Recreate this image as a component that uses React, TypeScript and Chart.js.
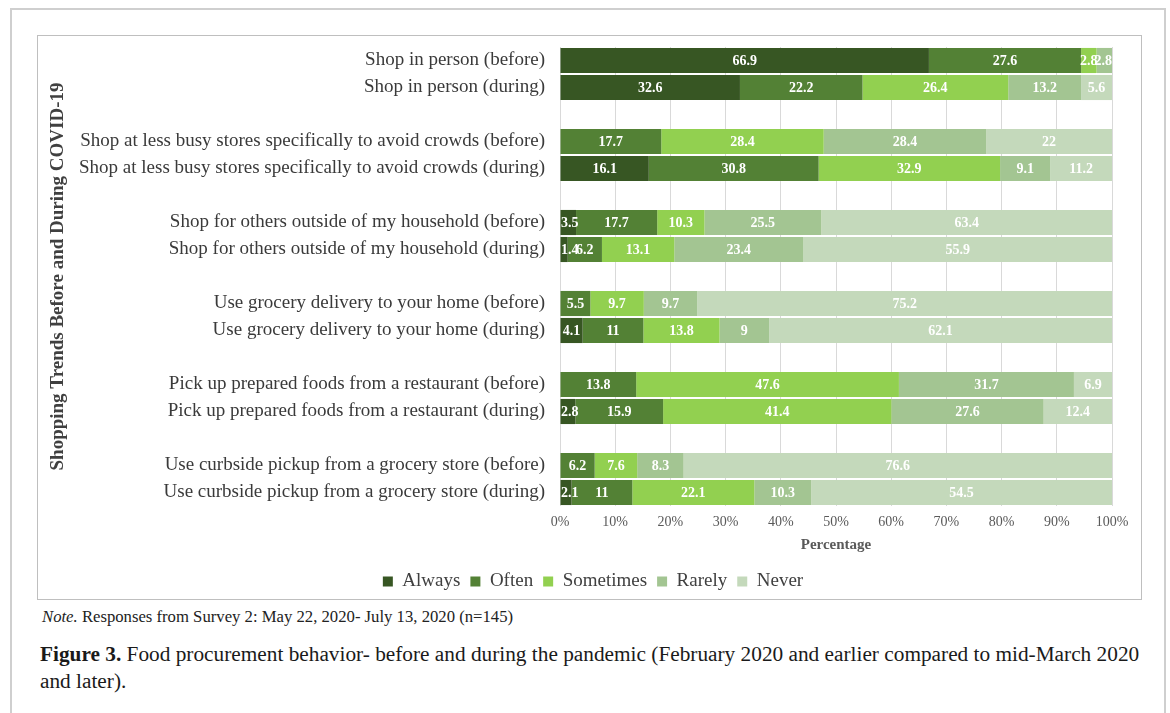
import React, { useEffect, useRef } from "react";
import { Chart, registerables } from "chart.js";

Chart.register(...registerables);

const categories = [
  "Shop in person (before)",
  "Shop in person (during)",
  "",
  "Shop at less busy stores specifically to avoid crowds (before)",
  "Shop at less busy stores specifically to avoid crowds (during)",
  "",
  "Shop for others outside of my household (before)",
  "Shop for others outside of my household (during)",
  "",
  "Use grocery delivery to your home (before)",
  "Use grocery delivery to your home (during)",
  "",
  "Pick up prepared foods from a restaurant (before)",
  "Pick up prepared foods from a restaurant (during)",
  "",
  "Use curbside pickup from a grocery store (before)",
  "Use curbside pickup from a grocery store (during)",
];

const seriesNames = ["Always", "Often", "Sometimes", "Rarely", "Never"];
const seriesColors = ["#375623", "#538135", "#92d050", "#a3c592", "#c4d9bb"];

const always = [66.9, 32.6, null, null, 16.1, null, 3.5, 1.4, null, null, 4.1, null, null, 2.8, null, null, 2.1];
const often = [27.6, 22.2, null, 17.7, 30.8, null, 17.7, 6.2, null, 5.5, 11, null, 13.8, 15.9, null, 6.2, 11];
const sometimes = [2.8, 26.4, null, 28.4, 32.9, null, 10.3, 13.1, null, 9.7, 13.8, null, 47.6, 41.4, null, 7.6, 22.1];
const rarely = [2.8, 13.2, null, 28.4, 9.1, null, 25.5, 23.4, null, 9.7, 9, null, 31.7, 27.6, null, 8.3, 10.3];
const never = [null, 5.6, null, 22, 11.2, null, 63.4, 55.9, null, 75.2, 62.1, null, 6.9, 12.4, null, 76.6, 54.5];

const seriesValues: (number | null)[][] = [always, often, sometimes, rarely, never];

const xTicks = [0, 10, 20, 30, 40, 50, 60, 70, 80, 90, 100];

const SERIF = '"Liberation Serif", "Times New Roman", serif';

// 100% stacked: each row is shown as share of its total (as Excel does)
const rowTotals = categories.map((_, i) =>
  seriesValues.reduce((s, arr) => s + (arr[i] ?? 0), 0)
);

const valueLabels = {
  id: "valueLabels",
  afterDatasetsDraw(chart: any) {
    const ctx = chart.ctx;
    const area = chart.chartArea;
    ctx.save();
    ctx.font = `bold 14px ${SERIF}`;
    ctx.fillStyle = "#ffffff";
    ctx.textAlign = "center";
    ctx.textBaseline = "middle";
    chart.data.datasets.forEach((_: any, di: number) => {
      const meta = chart.getDatasetMeta(di);
      const raw = seriesValues[di];
      meta.data.forEach((el: any, i: number) => {
        const v = raw[i];
        if (v == null) return;
        const { x, base, y } = el.getProps(["x", "base", "y"], true);
        const text = String(v);
        const half = ctx.measureText(text).width / 2;
        let cx = (x + base) / 2;
        cx = Math.max(cx, area.left + half + 1);
        cx = Math.min(cx, area.right - half);
        ctx.fillText(text, cx, y + 1);
      });
    });
    ctx.restore();
  },
};

const legendShift = {
  id: "legendShift",
  afterLayout(chart: any) {
    const l = chart.legend;
    if (!l) return;
    l.left += 18;
    l.right += 18;
    l.top += 2;
    l.bottom += 2;
  },
};

function ChartBox() {
  const ref = useRef<HTMLCanvasElement>(null);
  useEffect(() => {
    if (!ref.current) return;
    const chart = new Chart(ref.current, {
      type: "bar",
      data: {
        labels: categories,
        datasets: seriesNames.map((name, di) => ({
          label: name,
          data: seriesValues[di].map((v, i) =>
            v == null ? null : (v / rowTotals[i]) * 100
          ),
          backgroundColor: seriesColors[di],
          borderWidth: 0,
          barPercentage: 0.93,
          categoryPercentage: 1,
        })),
      },
      options: {
        indexAxis: "y",
        responsive: false,
        animation: false,
        devicePixelRatio: 1,
        layout: { padding: { top: 11, right: 29, bottom: 0, left: 0 } },
        plugins: {
          tooltip: { enabled: false },
          legend: {
            position: "bottom",
            labels: {
              boxWidth: 10,
              boxHeight: 10,
              padding: 10,
              color: "#404040",
              font: { family: SERIF, size: 19 },
            },
          },
        },
        scales: {
          x: {
            stacked: true,
            min: 0,
            max: 100,
            grid: { color: "#d9d9d9", drawTicks: false },
            border: { display: false },
            ticks: {
              stepSize: 10,
              padding: 8,
              color: "#595959",
              font: { family: SERIF, size: 14 },
              callback: (v: any) => (xTicks.includes(Number(v)) ? v + "%" : ""),
            },
            title: {
              display: true,
              text: "Percentage",
              color: "#595959",
              font: { family: SERIF, size: 15, weight: "bold" },
              padding: { top: 0, bottom: 6 },
            },
            afterFit: (scale: any) => {
              scale.height = 54;
            },
          },
          y: {
            stacked: true,
            grid: { display: false, drawTicks: false },
            border: { display: false },
            ticks: {
              autoSkip: false,
              padding: 15,
              color: "#3a3a3a",
              font: { family: SERIF, size: 19 },
            },
            title: {
              display: true,
              text: "Shopping Trends Before and During COVID-19",
              color: "#404040",
              font: { family: SERIF, size: 19, weight: "bold" },
              padding: { top: 9, bottom: 0 },
            },
            afterFit: (scale: any) => {
              scale.width = 522;
              scale.paddingTop = 0;
              scale.paddingBottom = 0;
            },
          },
        },
      },
      plugins: [valueLabels, legendShift],
    });
    return () => chart.destroy();
  }, []);
  return <canvas ref={ref} width={1103} height={563} style={{ width: 1103, height: 563, display: "block" }} />;
}

export default function App() {
  return (
    <div
      style={{
        position: "absolute",
        left: 0,
        top: 0,
        width: 1170,
        height: 713,
        overflow: "hidden",
        background: "#fff",
        fontFamily: SERIF,
      }}
    >
      <div
        style={{
          position: "absolute",
          left: 10,
          top: 8,
          width: 1156,
          height: 720,
          boxSizing: "border-box",
          borderLeft: "2px solid #cfcfcf",
          borderTop: "2px solid #cfcfcf",
          borderRight: "2px solid #cfcfcf",
        }}
      />
      <div
        style={{
          position: "absolute",
          left: 37,
          top: 35,
          width: 1105,
          height: 565,
          boxSizing: "border-box",
          border: "1px solid #bfbfbf",
        }}
      />
      <div style={{ position: "absolute", left: 38, top: 36 }}>
        <ChartBox />
      </div>
      <div
        style={{
          position: "absolute",
          left: 42,
          top: 606,
          fontSize: 16.7,
          lineHeight: "22px",
          color: "#222",
          whiteSpace: "nowrap",
        }}
      >
        <i>Note.</i> Responses from Survey 2: May 22, 2020- July 13, 2020 (n=145)
      </div>
      <div
        style={{
          position: "absolute",
          left: 40,
          top: 641,
          fontSize: 21.3,
          lineHeight: "27px",
          color: "#1a1a1a",
          whiteSpace: "nowrap",
        }}
      >
        <b>Figure 3.</b> Food procurement behavior- before and during the pandemic (February 2020 and earlier compared to mid-March 2020
        <br />
        and later).
      </div>
    </div>
  );
}
